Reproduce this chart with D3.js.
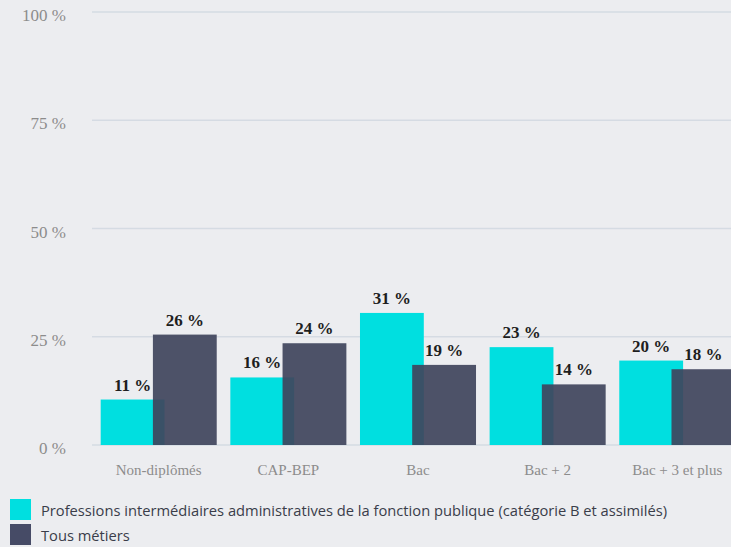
<!DOCTYPE html>
<html>
<head>
<meta charset="utf-8">
<script src="https://cdn.jsdelivr.net/npm/d3@7"></script>
<style>
  body { margin: 0; background: #ecedf0; }
  svg { display: block; }
</style>
</head>
<body>
<svg id="drawing_region"></svg>
<script>
// data
const categories = ["Non-diplômés", "CAP-BEP", "Bac", "Bac + 2", "Bac + 3 et plus"];
const seriesNames = ["Professions intermédiaires administratives de la fonction publique (catégorie B et assimilés)", "Tous métiers"];
const fonctionPublique = [10.5, 15.6, 30.5, 22.6, 19.5];
const tousMetiers = [25.5, 23.5, 18.5, 14.0, 17.5];
const yTicks = [0, 25, 50, 75, 100];

const width = 731, height = 547;
const svg = d3.select('#drawing_region')
    .attr('width', width)
    .attr('height', height);

svg.append('rect')
    .attr('width', width).attr('height', height)
    .attr('fill', '#ecedf0');

const y = d3.scaleLinear().domain([0, 100]).range([445, 12]);
const x = d3.scaleBand().domain(categories).range([92, 744])
    .paddingInner(0.105).paddingOuter(0.067);

const barW = x.bandwidth() * 0.55;
const colors = ['#00dfe0', '#3f445c'];

// grid + y labels
svg.append('g').selectAll('line')
    .data(yTicks).enter().append('line')
    .attr('x1', 92).attr('x2', width)
    .attr('y1', d => y(d)).attr('y2', d => y(d))
    .attr('stroke', '#d5dbe3')
    .attr('stroke-width', 1.5);

svg.append('g').selectAll('text')
    .data(yTicks).enter().append('text')
    .attr('x', 66)
    .attr('y', d => y(d) + 9)
    .attr('text-anchor', 'end')
    .attr('font-family', 'Liberation Serif, serif')
    .attr('font-size', 17)
    .attr('fill', '#8c8c8c')
    .text(d => d + ' %');

// bars
const series = [fonctionPublique, tousMetiers];
series.forEach((vals, si) => {
    const g = svg.append('g');
    const bx = (d, i) => x(categories[i]) + (si === 0 ? 0 : x.bandwidth() - barW);
    g.selectAll('rect')
        .data(vals).enter().append('rect')
        .attr('x', bx)
        .attr('y', d => y(d))
        .attr('width', barW)
        .attr('height', d => y(0) - y(d))
        .attr('fill', colors[si])
        .attr('opacity', si === 0 ? 1 : 0.92);
    g.selectAll('text')
        .data(vals).enter().append('text')
        .attr('x', (d, i) => bx(d, i) + barW / 2)
        .attr('y', d => y(d) - 9)
        .attr('text-anchor', 'middle')
        .attr('font-family', 'Liberation Serif, serif')
        .attr('font-weight', 'bold')
        .attr('font-size', 17)
        .attr('fill', '#1e1e1e')
        .text(d => Math.round(d) + ' %');
});

// x labels
svg.append('g').selectAll('text')
    .data(categories).enter().append('text')
    .attr('x', d => x(d) + x.bandwidth() / 2)
    .attr('y', 475)
    .attr('text-anchor', 'middle')
    .attr('font-family', 'Liberation Serif, serif')
    .attr('font-size', 15)
    .attr('fill', '#8c8c8c')
    .text(d => d);

// legend
const legend = svg.append('g').selectAll('g')
    .data(seriesNames).enter().append('g')
    .attr('transform', (d, i) => `translate(10, ${499 + i * 25})`);
legend.append('rect')
    .attr('width', 21).attr('height', 21)
    .attr('fill', (d, i) => i === 0 ? colors[0] : '#464b66');
legend.append('text')
    .attr('x', 31).attr('y', 17)
    .attr('font-family', 'Open Sans, sans-serif')
    .attr('font-size', 14.7)
    .attr('fill', '#3a3d4a')
    .text(d => d);
</script>
</body>
</html>
